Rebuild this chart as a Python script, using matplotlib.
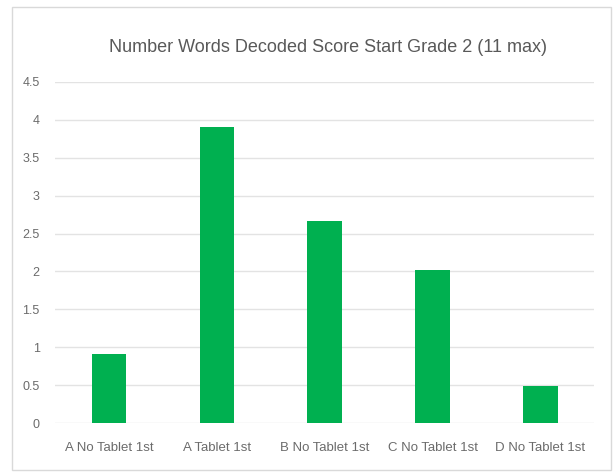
import matplotlib.pyplot as plt
from matplotlib.patches import Rectangle

groups = ['A No Tablet 1st', 'A Tablet 1st', 'B No Tablet 1st', 'C No Tablet 1st', 'D No Tablet 1st']
scores = [0.91, 3.9, 2.67, 2.02, 0.49]
yticks = [0, 0.5, 1, 1.5, 2, 2.5, 3, 3.5, 4, 4.5]
ylabels = ['0', '0.5', '1', '1.5', '2', '2.5', '3', '3.5', '4', '4.5']

plt.rcParams['font.family'] = ['Liberation Sans Narrow', 'Liberation Sans', 'DejaVu Sans']

fig = plt.figure(figsize=(6.13, 4.72), dpi=100)
ax = fig.add_axes([0.0897, 0.1038, 0.880, 0.7225])

x = range(len(groups))
ax.bar(x, scores, width=0.32, color='#00B050', zorder=3)

ax.set_xlim(-0.5, len(groups) - 0.5)
ax.set_ylim(0, 4.5)
ax.set_yticks(yticks)
ax.set_yticklabels(ylabels)
ax.set_xticks(list(x))
ax.set_xticklabels(groups)
ax.tick_params(axis='both', length=0, colors='#6b6b6b')
ax.tick_params(axis='y', pad=11, labelsize=9)
ax.tick_params(axis='x', pad=14, labelsize=9.5)
ax.grid(axis='y', color='#E3E3E3', linewidth=1.0, zorder=0)
for s in ['top', 'right', 'left', 'bottom']:
    ax.spines[s].set_visible(False)

fig.text(0.535, 0.90, 'Number Words Decoded Score Start Grade 2 (11 max)',
         ha='center', va='center', fontsize=13, color='#595959')

# chart border
fig.patches.append(Rectangle((0.0196, 0.004), 0.977, 0.981, transform=fig.transFigure,
                             fill=False, edgecolor='#D9D9D9', linewidth=1))

fig.savefig('out.png', dpi=100)
